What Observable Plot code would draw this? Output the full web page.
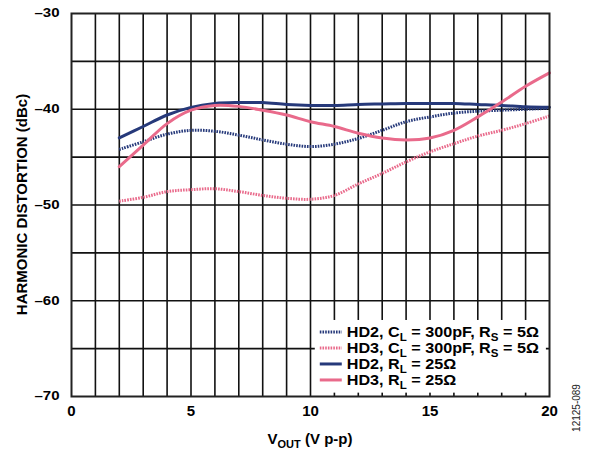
<!DOCTYPE html>
<html>
<head>
<meta charset="utf-8">
<script src="https://cdn.jsdelivr.net/npm/d3@7"></script>
<script src="https://cdn.jsdelivr.net/npm/@observablehq/plot@0.6"></script>
<style>
  html, body { margin: 0; padding: 0; background: #fff; }
  #chart { width: 590px; height: 452px; }
  svg text { font-family: "Liberation Sans", Arial, sans-serif; }
</style>
</head>
<body>
<div id="chart"></div>
<script>
// ---- Data ----
const vout   = [2, 3, 4, 5, 6, 7, 8, 9, 10, 11, 12, 13, 14, 15, 16, 17, 18, 19, 20];
const hd2CL  = [-44.2, -43.4, -42.6, -42.2, -42.3, -42.7, -43.2, -43.65, -43.9, -43.65, -43.05, -42.2, -41.3, -40.8, -40.4, -40.2, -40.1, -40.0, -39.9];
const hd3CL  = [-49.6, -49.2, -48.6, -48.4, -48.3, -48.6, -49.0, -49.3, -49.4, -49.0, -47.8, -46.7, -45.5, -44.45, -43.6, -42.8, -42.2, -41.5, -40.7];
const hd2RL  = [-43.0, -41.8, -40.6, -39.8, -39.4, -39.3, -39.3, -39.5, -39.6, -39.6, -39.5, -39.45, -39.4, -39.4, -39.4, -39.5, -39.6, -39.75, -39.8];
const hd3RL  = [-46.0, -43.75, -41.5, -40.1, -39.6, -39.7, -40.1, -40.6, -41.3, -41.8, -42.5, -43.0, -43.2, -43.0, -42.2, -40.8, -39.25, -37.6, -36.2];

const xTicks = [0, 5, 10, 15, 20];
const yTicks = [-70, -60, -50, -40, -30];
const xGrid = d3.range(1, 20);
const yGrid = [-65, -60, -55, -50, -45, -40, -35];

const NAVY = "#26397a", PINK = "#e96a8b";
const DOTS = "1.6,1.1";

const series = [
  {key: "hd2CL", values: hd2CL, color: NAVY, dotted: true,  label: ["HD2, C", "L", " = 300pF, R", "S", " = 5Ω"]},
  {key: "hd3CL", values: hd3CL, color: PINK, dotted: true,  label: ["HD3, C", "L", " = 300pF, R", "S", " = 5Ω"]},
  {key: "hd2RL", values: hd2RL, color: NAVY, dotted: false, label: ["HD2, R", "L", " = 25Ω"]},
  {key: "hd3RL", values: hd3RL, color: PINK, dotted: false, label: ["HD3, R", "L", " = 25Ω"]}
];

const rows = series.flatMap(s => vout.map((v, i) => ({x: v, y: s.values[i], key: s.key})));

// legend box extent (in data units)
const legendBox = [{x1: 10.2, x2: 19.87, y1: -62.06, y2: -69.65}];

const fmtY = d => (d < 0 ? "\u2013" + Math.abs(d) : String(d));

const marks = [
  Plot.ruleX(xGrid, {stroke: "#111", strokeWidth: 1.6}),
  Plot.ruleY(yGrid, {stroke: "#111", strokeWidth: 1.6}),
  ...series.map(s => Plot.line(rows.filter(r => r.key === s.key), {
    x: "x", y: "y", stroke: s.color, strokeWidth: 3,
    strokeDasharray: s.dotted ? DOTS : undefined,
    strokeLinecap: s.dotted ? "butt" : "round",
    curve: "catmull-rom"
  })),
  Plot.rect(legendBox, {x1: "x1", x2: "x2", y1: "y1", y2: "y2", fill: "white"}),
  Plot.frame({stroke: "#222", strokeWidth: 2})
];

const plot = Plot.plot({
  width: 590,
  height: 452,
  marginLeft: 71,
  marginRight: 41,
  marginTop: 13,
  marginBottom: 56,
  style: {fontFamily: "Liberation Sans, Arial, sans-serif", background: "#fff", overflow: "visible"},
  x: {domain: [0, 20], ticks: xTicks, tickSize: 0, tickPadding: 9, label: null},
  y: {domain: [-70, -30], ticks: yTicks, tickSize: 0, tickPadding: 12, tickFormat: fmtY, label: null},
  marks
});

document.getElementById("chart").appendChild(plot);

const svg = d3.select(plot);
// style tick labels
svg.selectAll("[aria-label='x-axis tick label'] text")
  .attr("font-size", 15).attr("font-weight", "bold").attr("fill", "#000");
svg.selectAll("[aria-label='y-axis tick label'] text")
  .attr("font-size", 12).attr("font-weight", "bold").attr("fill", "#000")
  .each(function() {
    const tr = this.getAttribute("transform") || "";
    this.setAttribute("transform", tr + " scale(1.25,1)");
  });

const xs = plot.scale("x"), ys = plot.scale("y");

// Y axis title
svg.append("text")
  .attr("transform", `translate(27,${(ys.apply(-30) + ys.apply(-70)) / 2}) rotate(-90)`)
  .attr("text-anchor", "middle")
  .attr("font-size", 15).attr("font-weight", "bold").attr("fill", "#000")
  .text("HARMONIC DISTORTION (dBc)");

// X axis title with subscript
const xt = svg.append("text")
  .attr("x", (xs.apply(0) + xs.apply(20)) / 2)
  .attr("y", 444)
  .attr("text-anchor", "middle")
  .attr("font-size", 15).attr("font-weight", "bold").attr("fill", "#000");
xt.append("tspan").text("V");
xt.append("tspan").attr("font-size", 11).attr("dy", 4).text("OUT");
xt.append("tspan").attr("dy", -4).text(" (V p-p)");

// Figure code
svg.append("text")
  .attr("transform", `translate(580,${ys.apply(-70) + 12}) rotate(-90)`)
  .attr("text-anchor", "middle")
  .attr("font-size", 10).attr("fill", "#222")
  .text("12125-089");

// Legend entries
const lx1 = xs.apply(legendBox[0].x1);
const ly1 = ys.apply(legendBox[0].y1);
const lg = svg.append("g");
series.forEach((s, i) => {
  const base = ly1 + 17 + i * 16;
  const ln = lg.append("line")
    .attr("x1", lx1 + 5).attr("x2", lx1 + 27)
    .attr("y1", base - 5).attr("y2", base - 5)
    .attr("stroke", s.color).attr("stroke-width", 3)
    .attr("stroke-linecap", "butt");
  if (s.dotted) ln.attr("stroke-dasharray", DOTS);
  const t = lg.append("text")
    .attr("transform", `translate(${lx1 + 32},${base}) scale(1.155,1)`)
    .attr("text-anchor", "start")
    .attr("font-size", 14).attr("font-weight", "bold").attr("fill", "#000");
  s.label.forEach((part, j) => {
    const sp = t.append("tspan").text(part);
    if (j % 2 === 1) sp.attr("font-size", 10).attr("dy", 4);
    else if (j > 0) sp.attr("dy", -4);
  });
});
</script>
</body>
</html>
